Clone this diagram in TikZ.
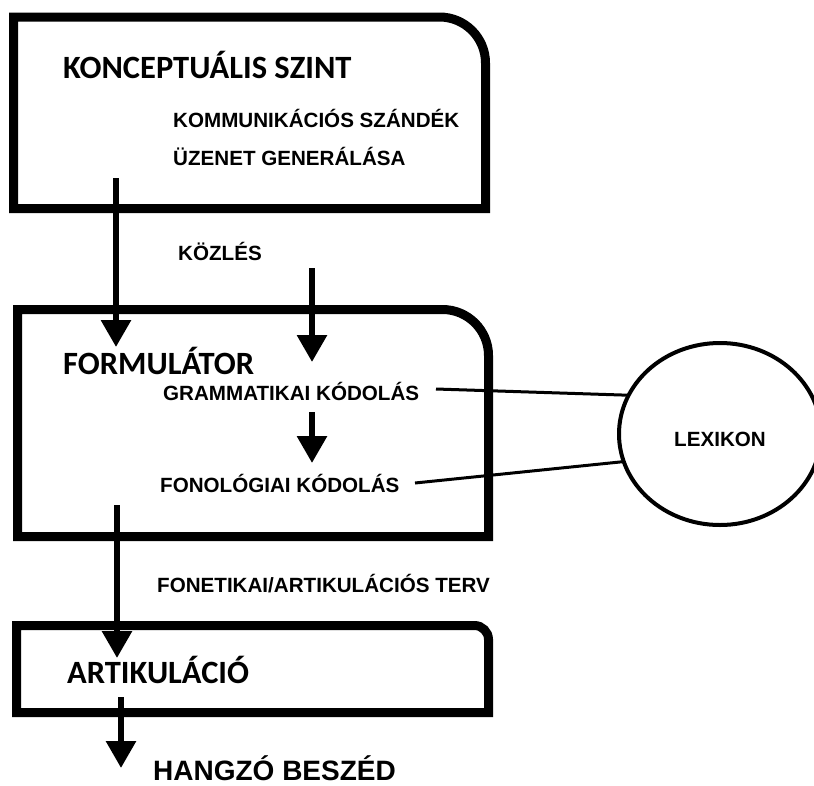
\documentclass[tikz,border=0pt]{standalone}
\usepackage{fontspec}
\setmainfont{Liberation Sans}
\newfontfamily\carlito{Carlito}
\usetikzlibrary{arrows.meta,shapes.geometric}
\tikzset{
  box/.style={line width=9pt, line join=miter},
  flow/.style={line width=6pt, -{Triangle[width=29pt,length=27pt]}},
  link/.style={line width=3pt},
  head/.style={font=\carlito\bfseries\fontsize{32.5}{36}\selectfont, anchor=base west, inner sep=0pt},
  lbl/.style={font=\bfseries\fontsize{20.6}{24}\selectfont, anchor=base west, inner sep=0pt},
  big/.style={font=\bfseries\fontsize{28}{32}\selectfont, anchor=base west, inner sep=0pt},
}
\begin{document}
\begin{tikzpicture}[x=1pt,y=-1pt]
\useasboundingbox (0,0) rectangle (814,785);
\clip (0,0) rectangle (814,785);
% boxes
\draw[box] (13.5,208.5) -- (13.5,17) -- (439.5,17) .. controls (464.9,17) and (485.5,37.6) .. (485.5,63) -- (485.5,208.5) -- cycle;
\draw[box] (17.5,536.5) -- (17.5,309.5) -- (442.5,309.5) .. controls (467.9,309.5) and (488.5,330.1) .. (488.5,355.5) -- (488.5,536.5) -- cycle;
\draw[box] (16.5,712.5) -- (16.5,625.5) -- (474.5,625.5) .. controls (482.2,625.5) and (488.5,631.8) .. (488.5,639.5) -- (488.5,712.5) -- cycle;
% texts
\node[head] (konc) at (63,78) {KONCEPTUÁLIS SZINT};
\node[lbl] (komm) at (173,127) {KOMMUNIKÁCIÓS SZÁNDÉK};
\node[lbl] (uzen) at (173,165) {ÜZENET GENERÁLÁSA};
\node[lbl] (kozl) at (178,260) {KÖZLÉS};
\node[head] (form) at (63,374) {FORMULÁTOR};
\node[lbl] (gram) at (163,400) {GRAMMATIKAI KÓDOLÁS};
\node[lbl] (fono) at (160,492) {FONOLÓGIAI KÓDOLÁS};
\node[lbl] (fonet) at (157,592) {FONETIKAI/ARTIKULÁCIÓS TERV};
\node[head] (art) at (67,683) {ARTIKULÁCIÓ};
\node[big] (hang) at (153,780) {HANGZÓ BESZÉD};
% lexicon
\node[ellipse, draw, line width=4pt, minimum width=202pt, minimum height=182pt, inner sep=0pt, outer sep=0pt,
      text height=25pt, font=\bfseries\fontsize{20.6}{24}\selectfont] (lex) at (720,434) {LEXIKON};
% coordinates
\coordinate (a1s) at (116,178); \coordinate (a1e) at (116,347);
\coordinate (a2s) at (312,268); \coordinate (a2e) at (312,362);
\coordinate (a3s) at (312,412); \coordinate (a3e) at (312,463);
\coordinate (a4s) at (117,505); \coordinate (a4e) at (117,658);
\coordinate (a5s) at (121,697); \coordinate (a5e) at (121,768);
\coordinate (g1) at (436,389);
\coordinate (f1) at (415,483);
% arrows
\draw[flow] (a1s) -- (a1e);
\draw[flow] (a2s) -- (a2e);
\draw[flow] (a3s) -- (a3e);
\draw[flow] (a4s) -- (a4e);
\draw[flow] (a5s) -- (a5e);
% links
\draw[link] (g1) -- (lex.157);
\draw[link] (f1) -- (lex.196);
\end{tikzpicture}
\end{document}
